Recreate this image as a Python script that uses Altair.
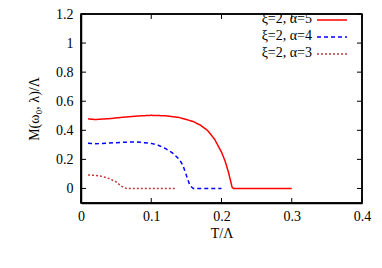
import altair as alt
import pandas as pd

# Data
t_a5 = [0.01, 0.02, 0.04, 0.06, 0.08, 0.10, 0.12, 0.14, 0.16, 0.17, 0.18, 0.19, 0.20, 0.205, 0.21, 0.213, 0.215, 0.217, 0.22, 0.25, 0.30]
m_a5 = [0.479, 0.474, 0.480, 0.490, 0.498, 0.503, 0.500, 0.488, 0.460, 0.435, 0.400, 0.340, 0.250, 0.190, 0.110, 0.050, 0.010, 0.0, 0.0, 0.0, 0.0]

t_a4 = [0.01, 0.02, 0.04, 0.06, 0.08, 0.10, 0.11, 0.12, 0.13, 0.14, 0.145, 0.15, 0.155, 0.16, 0.20]
m_a4 = [0.311, 0.307, 0.312, 0.318, 0.320, 0.310, 0.297, 0.275, 0.245, 0.200, 0.160, 0.090, 0.020, 0.0, 0.0]

t_a3 = [0.01, 0.02, 0.03, 0.04, 0.05, 0.055, 0.06, 0.065, 0.134]
m_a3 = [0.093, 0.090, 0.083, 0.068, 0.045, 0.025, 0.008, 0.0, 0.0]

labels = ["ξ=2, α=5", "ξ=2, α=4", "ξ=2, α=3"]
colors = ["#ff0000", "#0000ff", "#c03a3a"]
dashes = [[1, 0], [4, 3], [2, 2]]

x_ticks = [0, 0.1, 0.2, 0.3, 0.4]
y_ticks = [0, 0.2, 0.4, 0.6, 0.8, 1.0, 1.2]

W, H = 281, 189
FONT = "Liberation Serif"
FS = 14

series = [(t_a5, m_a5), (t_a4, m_a4), (t_a3, m_a3)]

xs = alt.Scale(domain=[0, 0.4], nice=False)
ys = alt.Scale(domain=[-0.1, 1.2], nice=False)

x_axis = alt.Axis(
    title="T/Λ", values=x_ticks, format="~g", ticks=False, grid=False,
    domain=True, domainColor="#000000", domainWidth=1.5,
    labelOverlap=False, labelFlush=False,
    labelFont=FONT, labelFontSize=FS, labelColor="black", labelPadding=6,
    titleFont=FONT, titleFontSize=FS, titleFontWeight="normal", titleColor="black", titlePadding=3)
y_axis = alt.Axis(
    title="M(ω₀, λ)/Λ", values=y_ticks, format="~g", ticks=False, grid=False,
    domain=True, domainColor="#000000", domainWidth=1.5,
    labelOverlap=False, labelFlush=False,
    labelFont=FONT, labelFontSize=FS, labelColor="black", labelPadding=8,
    titleFont=FONT, titleFontSize=FS, titleFontWeight="normal", titleColor="black", titlePadding=14)

layers = []

for i, (t, m) in enumerate(series):
    df = pd.DataFrame({"T": t, "M": m})
    line = alt.Chart(df).mark_line(
        color=colors[i], strokeDash=dashes[i], strokeWidth=1.5, clip=True
    ).encode(
        x=alt.X("T:Q", scale=xs, axis=x_axis),
        y=alt.Y("M:Q", scale=ys, axis=y_axis),
    )
    layers.append(line)

# plot frame drawn as four rules
k = pd.DataFrame({"k": [0]})
for (xa, xb, ya, yb) in [(0, W, 0, 0), (0, W, H, H), (0, 0, 0, H), (W, W, 0, H)]:
    layers.append(alt.Chart(k).mark_rule(color="#000000", strokeWidth=1.5).encode(
        x=alt.value(xa), x2=alt.value(xb), y=alt.value(ya), y2=alt.value(yb)))

# inward ticks on all four sides
xt = pd.DataFrame({"T": x_ticks})
yt = pd.DataFrame({"M": y_ticks})
layers.append(alt.Chart(xt).mark_rule(color="black", strokeWidth=1).encode(
    x=alt.X("T:Q", scale=xs, axis=x_axis), y=alt.value(H), y2=alt.value(H - 5)))
layers.append(alt.Chart(xt).mark_rule(color="black", strokeWidth=1).encode(
    x=alt.X("T:Q", scale=xs, axis=x_axis), y=alt.value(0), y2=alt.value(5)))
layers.append(alt.Chart(yt).mark_rule(color="black", strokeWidth=1).encode(
    y=alt.Y("M:Q", scale=ys, axis=y_axis), x=alt.value(0), x2=alt.value(5)))
layers.append(alt.Chart(yt).mark_rule(color="black", strokeWidth=1).encode(
    y=alt.Y("M:Q", scale=ys, axis=y_axis), x=alt.value(W), x2=alt.value(W - 5)))

# legend (top right, labels left of samples)
leg_y = [5, 22, 39]
for i in range(3):
    ldf = pd.DataFrame({"label": [labels[i]]})
    layers.append(alt.Chart(ldf).mark_text(
        align="right", baseline="middle", font=FONT, fontSize=FS, color="black"
    ).encode(text="label:N", x=alt.value(231), y=alt.value(leg_y[i])))
    layers.append(alt.Chart(ldf).mark_rule(
        color=colors[i], strokeDash=dashes[i], strokeWidth=1.5
    ).encode(x=alt.value(236), x2=alt.value(266), y=alt.value(leg_y[i] + 1)))

chart = alt.layer(*layers).properties(
    width=W, height=H,
    background="white",
    autosize=alt.AutoSizeParams(type="none"),
    padding={"left": 73, "top": 6, "right": 12, "bottom": 57},
).configure_view(stroke="#000000", strokeWidth=1.5)

chart.save("out.html", embed_options={"renderer": "svg", "actions": False})
